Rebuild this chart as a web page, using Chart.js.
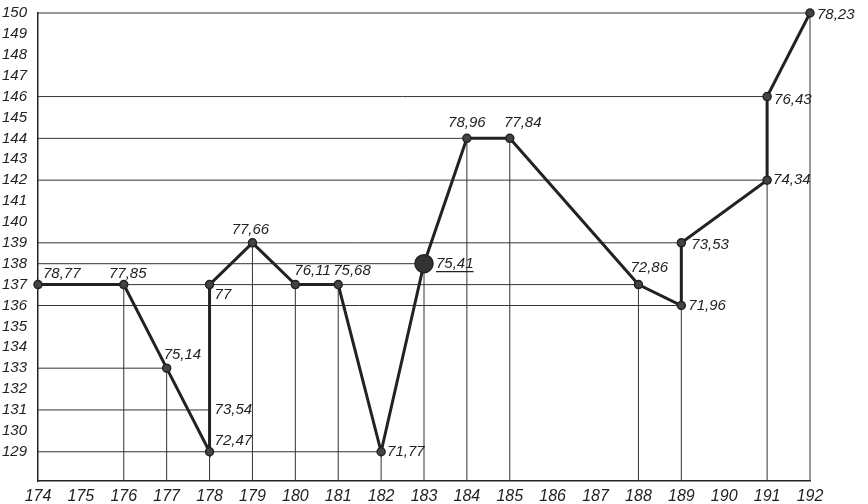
<!DOCTYPE html>
<html>
<head>
<meta charset="utf-8">
<script src="https://cdn.jsdelivr.net/npm/chart.js@4"></script>
<style>
  html, body { margin: 0; padding: 0; background: #fff; }
  #wrap { width: 868px; height: 504px; }
</style>
</head>
<body>
<div id="wrap"><canvas id="chart"></canvas></div>
<script>
  // data
  const xValues = [174, 176, 177, 178, 178, 178, 179, 180, 181, 182, 183, 184, 185, 188, 189, 189, 191, 191, 192];
  const yValues = [137, 137, 133, 129, 131, 137, 139, 137, 137, 129, 138, 144, 144, 137, 136, 139, 142, 146, 150];
  const pointLabels = ['78,77', '77,85', '75,14', '72,47', '73,54', '77', '77,66', '76,11', '75,68', '71,77',
                       '75,41', '78,96', '77,84', '72,86', '71,96', '73,53', '74,34', '76,43', '78,23'];
  const xTicks = [174, 175, 176, 177, 178, 179, 180, 181, 182, 183, 184, 185, 186, 187, 188, 189, 190, 191, 192];
  const yTicks = [129, 130, 131, 132, 133, 134, 135, 136, 137, 138, 139, 140, 141, 142, 143, 144, 145, 146, 147, 148, 149, 150];

  const X_MIN = 174, X_MAX = 192, Y_MIN = 127.6, Y_MAX = 150;
  const INK = '#222';
  const FONT = '"Liberation Sans", Arial, sans-serif';

  // the point at 178/131 sits between 129 and 137 on the same vertical
  const mainPoints = xValues.map((x, i) => ({ x: x, y: yValues[i], label: pointLabels[i] }));

  // guide lines: horizontal from the axis to the furthest point at that height,
  // vertical from the bottom up to each point
  const guides = [];
  const ySeen = {};
  xValues.forEach((x, i) => {
    const y = yValues[i];
    ySeen[y] = Math.max(ySeen[y] || X_MIN, x);
  });
  Object.keys(ySeen).forEach(y => {
    guides.push([{ x: X_MIN, y: +y }, { x: ySeen[y], y: +y }]);
  });
  const xSeen = {};
  xValues.forEach((x, i) => {
    xSeen[x] = Math.max(xSeen[x] || Y_MIN, yValues[i]);
  });
  Object.keys(xSeen).forEach(x => {
    if (+x === X_MIN) return;
    guides.push([{ x: +x, y: Y_MIN }, { x: +x, y: xSeen[x] }]);
  });

  const datasets = [{
    data: mainPoints,
    showLine: true,
    clip: false,
    borderColor: INK,
    borderWidth: 3,
    pointRadius: mainPoints.map((p, i) => i === 4 ? 0 : (i === 10 ? 9 : 4)),
    pointBackgroundColor: mainPoints.map((p, i) => i === 10 ? '#333' : '#444'),
    pointBorderColor: INK,
    pointBorderWidth: 1.5,
    tension: 0
  }];
  guides.forEach(g => datasets.push({
    data: g,
    showLine: true,
    clip: false,
    borderColor: '#333',
    borderWidth: 1,
    pointRadius: 0,
    tension: 0
  }));

  // label spots: [dx, dy, align, underline]
  const spots = [
    [5, -11, 'left'], [4, -11, 'center'], [-3, -13, 'left'], [5, -11, 'left'], [5, 0, 'left'],
    [5, 10, 'left'], [-2, -13, 'center'], [-1, -14, 'left'], [-5, -14, 'left'], [6, 0, 'left'],
    [12, 0, 'left', true], [0, -16, 'center'], [13, -16, 'center'], [-8, -17, 'left'], [7, 0, 'left'],
    [10, 2, 'left'], [6, 0, 'left'], [7, 3, 'left'], [7, 2, 'left']
  ];

  const labelPlugin = {
    id: 'pointText',
    afterDatasetsDraw(chart) {
      const ctx = chart.ctx;
      const meta = chart.getDatasetMeta(0);
      ctx.save();
      ctx.fillStyle = INK;
      ctx.strokeStyle = INK;
      ctx.font = 'italic 15px ' + FONT;
      ctx.textBaseline = 'middle';
      meta.data.forEach((el, i) => {
        const s = spots[i];
        const tx = el.x + s[0], ty = el.y + s[1];
        ctx.textAlign = s[2];
        ctx.fillText(mainPoints[i].label, tx, ty);
        if (s[3]) {
          const w = ctx.measureText(mainPoints[i].label).width;
          ctx.lineWidth = 1.2;
          ctx.beginPath();
          ctx.moveTo(tx, ty + 8);
          ctx.lineTo(tx + w, ty + 8);
          ctx.stroke();
        }
      });
      ctx.restore();
    }
  };

  new Chart(document.getElementById('chart'), {
    type: 'scatter',
    data: { datasets: datasets },
    options: {
      responsive: true,
      maintainAspectRatio: false,
      animation: false,
      layout: { padding: { top: 13, right: 58, left: 0, bottom: 0 } },
      plugins: { legend: { display: false }, tooltip: { enabled: false } },
      scales: {
        x: {
          type: 'linear',
          min: X_MIN,
          max: X_MAX,
          afterBuildTicks: (scale) => { scale.ticks = xTicks.map(v => ({ value: v })); },
          afterFit: (scale) => { scale.height = 23; },
          grid: { display: false },
          border: { display: true, color: INK, width: 1.5 },
          ticks: {
            color: INK,
            padding: 0,
            maxRotation: 0,
            autoSkip: false,
            font: { family: FONT, size: 16, style: 'italic', lineHeight: 1 }
          }
        },
        y: {
          min: Y_MIN,
          max: Y_MAX,
          afterBuildTicks: (scale) => { scale.ticks = yTicks.map(v => ({ value: v })); },
          afterFit: (scale) => { scale.width = 38; },
          grid: { display: false },
          border: { display: true, color: INK, width: 1.5 },
          ticks: {
            color: INK,
            padding: 3,
            autoSkip: false,
            font: { family: FONT, size: 15, style: 'italic' }
          }
        }
      }
    },
    plugins: [labelPlugin]
  });
</script>
</body>
</html>
